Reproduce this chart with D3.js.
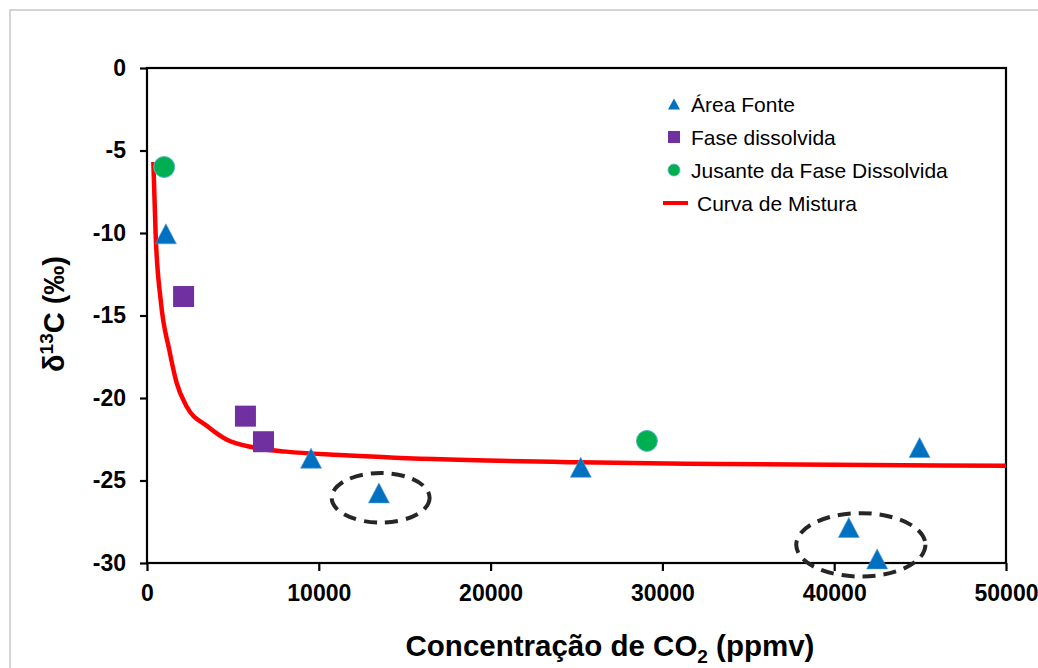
<!DOCTYPE html>
<html>
<head>
<meta charset="utf-8">
<script src="https://cdn.jsdelivr.net/npm/d3@7"></script>
<style>
  body { margin: 0; background: #fff; }
  svg { display: block; font-family: "Liberation Sans", Arial, sans-serif; }
</style>
</head>
<body>
<svg id="chart" width="1038" height="668"></svg>
<script>
// series
var fonteX = [1100, 9550, 13500, 25250, 40850, 42500, 44970];
var fonteY = [-10.05, -23.65, -25.75, -24.2, -27.85, -29.75, -23.0];

var faseX = [2130, 5730, 6780];
var faseY = [-13.85, -21.1, -22.65];

var jusanteX = [1000, 29100];
var jusanteY = [-6.0, -22.6];

// mixing curve, points
var curvaX = [370, 500, 800, 1300, 1730, 2300, 3500, 4600, 6200, 8100, 11200, 16700, 25200, 33400, 50000];
var curvaY = [-5.7, -10.0, -14.1, -17.1, -19.1, -20.5, -21.7, -22.5, -23.0, -23.25, -23.45, -23.7, -23.9, -24.0, -24.1];

// dashed ellipses around the outliers (centre and radii in data units)
var annotX = [13600, 41550];
var annotY = [-26.05, -28.9];
var annotRx = [2850, 3760];
var annotRy = [1.5, 1.92];

var xTicks = [0, 10000, 20000, 30000, 40000, 50000];
var yTicks = [0, -5, -10, -15, -20, -25, -30];

var legendLabels = ["Área Fonte", "Fase dissolvida", "Jusante da Fase Dissolvida", "Curva de Mistura"];

var svg = d3.select("#chart");
var margin = {top: 68, right: 32, bottom: 105, left: 147};
var width = 1038 - margin.left - margin.right,
    height = 668 - margin.top - margin.bottom;

// outer chart frame
svg.append("rect")
    .attr("x", 10).attr("y", 10)
    .attr("width", 1040).attr("height", 700)
    .attr("fill", "none")
    .attr("stroke", "#bfbfbf")
    .attr("stroke-width", 1.3);

var g = svg.append("g")
    .attr("transform", "translate(" + margin.left + "," + margin.top + ")");

var x = d3.scaleLinear().domain([0, 50000]).range([0, width]);
var y = d3.scaleLinear().domain([-30, 0]).range([height, 0]);

// plot box
g.append("rect")
    .attr("width", width).attr("height", height)
    .attr("fill", "none")
    .attr("stroke", "#000")
    .attr("stroke-width", 2.2);

// axes
var xAxis = g.append("g")
    .attr("transform", "translate(0," + height + ")")
    .call(d3.axisBottom(x).tickValues(xTicks).tickSize(8).tickPadding(14).tickFormat(d3.format("d")));
var yAxis = g.append("g")
    .call(d3.axisLeft(y).tickValues(yTicks).tickSize(7).tickPadding(14).tickFormat(d3.format("d")));

[xAxis, yAxis].forEach(function(a) {
  a.select(".domain").remove();
  a.selectAll(".tick line").attr("stroke", "#000").attr("stroke-width", 2.2);
  a.selectAll(".tick text")
      .attr("fill", "#000")
      .style("font-family", "'Liberation Sans', Arial, sans-serif")
      .style("font-size", "23px")
      .style("font-weight", "bold");
});
yAxis.selectAll(".tick text").text(function(d) { return d === 0 ? "0" : "-" + Math.abs(d); });

// axis titles
var xt = svg.append("text")
    .attr("x", 610).attr("y", 656)
    .attr("text-anchor", "middle")
    .style("font-size", "29.5px").style("font-weight", "bold");
xt.append("tspan").text("Concentração de CO");
xt.append("tspan").attr("dy", 7).style("font-size", "19px").text("2");
xt.append("tspan").attr("dy", -7).text(" (ppmv)");

var yt = svg.append("text")
    .attr("transform", "translate(64,314) rotate(-90)")
    .attr("text-anchor", "middle")
    .style("font-size", "29px").style("font-weight", "bold");
yt.append("tspan").text("δ");
yt.append("tspan").attr("dy", -11).style("font-size", "19px").text("13");
yt.append("tspan").attr("dy", 11).text("C (‰)");

// mixing curve
var line = d3.line()
    .x(function(d) { return x(d[0]); })
    .y(function(d) { return y(d[1]); })
    .curve(d3.curveMonotoneX);

g.append("path")
    .datum(d3.zip(curvaX, curvaY))
    .attr("d", line)
    .attr("fill", "none")
    .attr("stroke", "#ff0000")
    .attr("stroke-width", 4.5);

// marker shapes
function triPath(w, h) {
  return "M0," + (-h / 2) + "L" + (w / 2) + "," + (h / 2) + "L" + (-w / 2) + "," + (h / 2) + "Z";
}

g.selectAll(".fase")
    .data(d3.zip(faseX, faseY))
  .enter().append("rect")
    .attr("class", "fase")
    .attr("x", function(d) { return x(d[0]) - 10.5; })
    .attr("y", function(d) { return y(d[1]) - 10.5; })
    .attr("width", 21).attr("height", 21)
    .attr("fill", "#7030a0");

g.selectAll(".fonte")
    .data(d3.zip(fonteX, fonteY))
  .enter().append("path")
    .attr("class", "fonte")
    .attr("d", triPath(21, 20))
    .attr("transform", function(d) { return "translate(" + x(d[0]) + "," + y(d[1]) + ")"; })
    .attr("fill", "#0070c0")
    .attr("stroke", "#5b9bd5")
    .attr("stroke-width", 0.6);

g.selectAll(".jusante")
    .data(d3.zip(jusanteX, jusanteY))
  .enter().append("circle")
    .attr("class", "jusante")
    .attr("cx", function(d) { return x(d[0]); })
    .attr("cy", function(d) { return y(d[1]); })
    .attr("r", 10.5)
    .attr("fill", "#00b050")
    .attr("stroke", "#5bb5c8")
    .attr("stroke-width", 1);

// dashed ellipses
g.selectAll(".annot")
    .data(d3.range(annotX.length))
  .enter().append("ellipse")
    .attr("class", "annot")
    .attr("cx", function(i) { return x(annotX[i]); })
    .attr("cy", function(i) { return y(annotY[i]); })
    .attr("rx", function(i) { return x(annotRx[i]) - x(0); })
    .attr("ry", function(i) { return y(-annotRy[i]) - y(0); })
    .attr("fill", "none")
    .attr("stroke", "#262626")
    .attr("stroke-width", 4)
    .attr("stroke-dasharray", "13,8");

// legend
var legend = svg.append("g").attr("transform", "translate(674,104)");
var rowH = 33;
legend.append("path").attr("d", triPath(12, 11)).attr("fill", "#0070c0");
legend.append("rect").attr("x", -6).attr("y", rowH - 6).attr("width", 12).attr("height", 12).attr("fill", "#7030a0");
legend.append("circle").attr("cy", rowH * 2).attr("r", 6).attr("fill", "#00b050").attr("stroke", "#5bb5c8").attr("stroke-width", 0.8);
legend.append("line").attr("x1", -11).attr("x2", 14).attr("y1", rowH * 3).attr("y2", rowH * 3)
    .attr("stroke", "#ff0000").attr("stroke-width", 4);

legend.selectAll(".ltext")
    .data(legendLabels)
  .enter().append("text")
    .attr("class", "ltext")
    .attr("x", function(d, i) { return i === 3 ? 23 : 17; })
    .attr("y", function(d, i) { return i * rowH + 7.5; })
    .style("font-size", "21px")
    .attr("fill", "#000")
    .text(function(d) { return d; });
</script>
</body>
</html>
